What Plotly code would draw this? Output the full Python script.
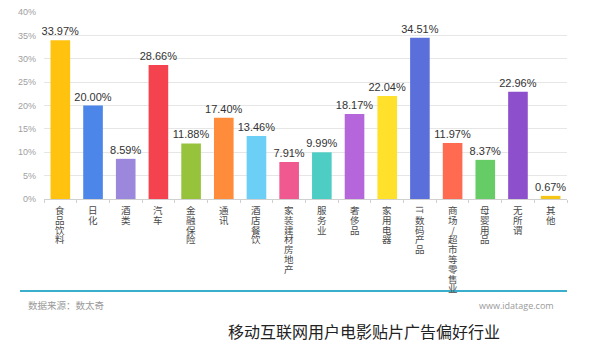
import plotly.graph_objects as go

categories = ["食品饮料", "日化", "酒类", "汽车", "金融保险", "通讯", "酒店餐饮", "家装建材房地产",
              "服务业", "奢侈品", "家用电器", "IT数码产品", "商场/超市等零售业", "母婴用品", "无所谓", "其他"]
values = [33.97, 20.00, 8.59, 28.66, 11.88, 17.40, 13.46, 7.91,
          9.99, 18.17, 22.04, 34.51, 11.97, 8.37, 22.96, 0.67]
colors = ["#FFC20E", "#4B86E8", "#9B88DD", "#F5424F", "#97C23C", "#FF8C3A", "#6CCFF6", "#F0598F",
          "#4ECDC4", "#B566DB", "#FFE02A", "#5B6FDB", "#FF6B50", "#66CC66", "#8E4FCC", "#F5C518"]
y_ticks = [0, 5, 10, 15, 20, 25, 30, 35, 40]

# page has an 8px body margin; the figure is sized to fit the window exactly
OFF = 8
W, H = 598 - OFF, 359 - OFF
ML, MR, MT, MB = 44 - OFF, 31, 12 - OFF, 160
PW, PH = W - ML - MR, H - MT - MB


def px_to_paper_y(py):
    return (H - MB - (py - OFF)) / PH


def px_to_paper_x(px):
    return ((px - OFF) - ML) / PW


def split_chars(label):
    parts = []
    i = 0
    while i < len(label):
        if label[i:i + 2] == "IT":
            parts.append("IT")
            i += 2
        else:
            parts.append(label[i])
            i += 1
    return parts


fig = go.Figure()
fig.add_trace(go.Bar(
    x=categories, y=values, marker=dict(color=colors, line=dict(width=0)),
    width=0.6,
    text=[f"{v:.2f}%" for v in values], textposition="outside",
    constraintext="none",
    textfont=dict(size=11, color="#333333", family="Arial, Liberation Sans, sans-serif"),
    cliponaxis=False,
))

fig.update_layout(
    width=W, height=H,
    margin=dict(l=ML, r=MR, t=MT, b=MB, autoexpand=False),
    paper_bgcolor="white", plot_bgcolor="white",
    showlegend=False,
    font=dict(family="Noto Sans CJK SC, sans-serif"),
)
fig.update_yaxes(
    range=[0, 40], tickvals=y_ticks, ticktext=[f"{t}%" for t in y_ticks],
    showgrid=True, gridcolor="#E6E6E6", gridwidth=1,
    tickfont=dict(size=9, color="#A0A0A0", family="Arial, Liberation Sans, sans-serif"),
    zeroline=False, showline=False, ticks="", automargin=False, ticklabelstandoff=7,
    ticklabeloverflow="allow",
)
fig.update_xaxes(
    range=[-0.5, len(categories) - 0.5],
    showticklabels=False,
    showline=True, linecolor="#D0D0D0", linewidth=1,
    ticks="outside", tickson="boundaries", ticklen=3, tickcolor="#D0D0D0",
    automargin=False, showgrid=False,
)

# vertical category labels, one character per row
START, PITCH = 11, 9.8
for cat in categories:
    for k, ch in enumerate(split_chars(cat)):
        fig.add_annotation(
            x=cat, y=0, xref="x", yref="y", yanchor="middle", xanchor="center",
            yshift=-(START + k * PITCH), showarrow=False, text=ch,
            textangle=90 if ch == "IT" else 0, borderpad=0,
            font=dict(size=9.5 if ch != "IT" else 8.5, color="#4A4A4A",
                      family="Noto Sans CJK SC, sans-serif"),
        )

fig.add_shape(type="line", xref="paper", yref="paper",
              x0=px_to_paper_x(20), x1=px_to_paper_x(567),
              y0=px_to_paper_y(291), y1=px_to_paper_y(291),
              line=dict(color="#3AAFCB", width=2))
fig.add_annotation(xref="paper", yref="paper", x=px_to_paper_x(26), y=px_to_paper_y(305),
                   xanchor="left", yanchor="middle", showarrow=False,
                   text="数据来源：数太奇",
                   font=dict(size=9.5, color="#9A9A9A", family="Noto Sans CJK SC, sans-serif"))
fig.add_annotation(xref="paper", yref="paper", x=px_to_paper_x(556), y=px_to_paper_y(305),
                   xanchor="right", yanchor="middle", showarrow=False,
                   text="www.idatage.com",
                   font=dict(size=9, color="#9A9A9A", family="Open Sans, sans-serif"))
fig.add_annotation(xref="paper", yref="paper", x=px_to_paper_x(364), y=px_to_paper_y(331),
                   xanchor="center", yanchor="middle", showarrow=False,
                   text="移动互联网用户电影贴片广告偏好行业",
                   font=dict(size=16, color="#222222", family="Noto Sans CJK SC, sans-serif"))

fig.write_html("out.html")
